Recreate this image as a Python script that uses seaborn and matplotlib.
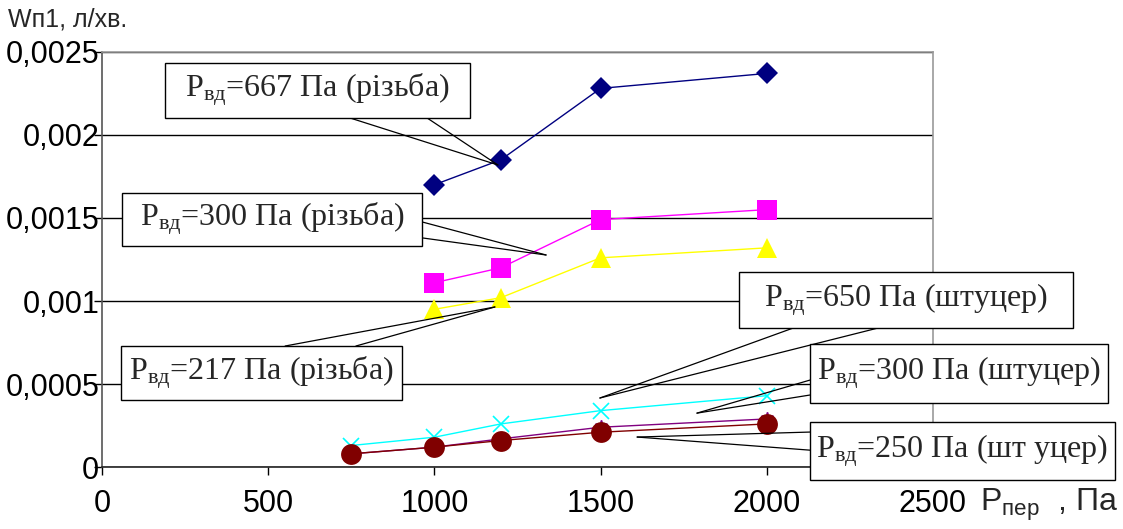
import seaborn as sns
import pandas as pd
import matplotlib.pyplot as plt
from matplotlib.patches import Rectangle
from matplotlib.ticker import FuncFormatter

x_thread = [1000, 1200, 1500, 2000]
w_667 = [0.00170, 0.00185, 0.00228, 0.00237]
w_300_thread = [0.00111, 0.00120, 0.00149, 0.00155]
w_217 = [0.00095, 0.00102, 0.00126, 0.00132]

x_fitting = [750, 1000, 1200, 1500, 2000]
w_650 = [0.00013, 0.00018, 0.00026, 0.00034, 0.00043]
w_300_fitting = [0.00008, 0.00012, 0.00017, 0.00024, 0.00029]
w_250 = [0.00008, 0.00012, 0.00016, 0.00021, 0.00026]

labels = ["=667 Па (різьба)", "=300 Па (різьба)", "=217 Па (різьба)",
          "=650 Па (штуцер)", "=300 Па (штуцер)", "=250 Па (шт уцер)"]

sns.set_theme(style="white")
plt.rcParams['font.family'] = ['Liberation Sans', 'DejaVu Sans']

fig = plt.figure(figsize=(11.23, 5.29), dpi=100)
ax = fig.add_axes([0.0908, 0.117, 0.7400, 0.785])

series = [
    (x_thread, w_667, "#000080", "D", 11),
    (x_thread, w_300_thread, "#FF00FF", "s", 14),
    (x_thread, w_217, "#FFFF00", "^", 14),
    (x_fitting, w_650, "#00FFFF", "x", 11),
    (x_fitting, w_300_fitting, "#800080", (6, 2, 0), 10),
    (x_fitting, w_250, "#800000", "o", 15),
]
for xs, ys, col, mk, ms in series:
    df = pd.DataFrame({"P": xs, "W": ys})
    sns.lineplot(data=df, x="P", y="W", color=col, marker=mk, markersize=ms,
                 markeredgecolor=col, markeredgewidth=1.2 if mk in ("x", (6, 2, 0)) else 0,
                 linewidth=1, ax=ax, legend=False, zorder=3)

ax.set_xlim(0, 2500)
ax.set_ylim(0, 0.0025)
ax.set_xticks([0, 500, 1000, 1500, 2000, 2500])
ax.set_yticks([0, 0.0005, 0.001, 0.0015, 0.002, 0.0025])
ax.yaxis.set_major_formatter(FuncFormatter(lambda v, p: f"{v:g}".replace(".", ",")))
ax.set_xlabel("")
ax.set_ylabel("")
ax.tick_params(axis="both", labelsize=22, colors="black")
ax.tick_params(axis="x", direction="out", length=6, width=1, pad=10, bottom=True)
ax.tick_params(axis="y", direction="out", length=6, width=1, pad=-4, left=True)
for t in ax.get_xticklabels() + ax.get_yticklabels():
    t.set_zorder(20)
ax.yaxis.grid(True, color="black", linewidth=1)
ax.xaxis.grid(False)
ax.set_axisbelow(True)
ax.spines["left"].set_color("#555555")
ax.spines["bottom"].set_color("#222222")
ax.spines["top"].set_color("#999999")
ax.spines["right"].set_color("#999999")
for s in ax.spines.values():
    s.set_linewidth(1.2)

# callout boxes: (x0, x1, y0, y1), leader bases, tip
callouts = [
    ((190, 1107, 0.002102, 0.002434), [(746, 0.002102), (978, 0.002102)], (1191, 0.001819)),
    ((60, 963, 0.001331, 0.001651), [(963, 0.001476), (963, 0.00138)], (1336, 0.001277)),
    ((57, 903, 0.000404, 0.000729), [(551, 0.000729), (764, 0.000729)], (1182, 0.000964)),
    ((1916, 2921, 0.000837, 0.001175), [(2079, 0.000837), (2334, 0.000837)], (1498, 0.000416)),
    ((2130, 3026, 0.000386, 0.000741), [(2130, 0.000524), (2130, 0.000434)], (1790, 0.000325)),
    ((2130, 3047, -0.0000783, 0.000271), [(2130, 0.000211), (2130, 0.000102)], (1610, 0.000181)),
]
for i, ((x0, x1, y0, y1), bases, tip) in enumerate(callouts):
    for b in bases:
        ax.annotate("", xy=tip, xytext=b,
                    arrowprops=dict(arrowstyle="-", color="black", lw=0.9,
                                    shrinkA=0, shrinkB=0),
                    annotation_clip=False, zorder=6)
    ax.add_patch(Rectangle((x0, y0), x1 - x0, y1 - y0, facecolor="white",
                           edgecolor="black", linewidth=1, clip_on=False, zorder=8))
    ax.text((x0 + x1) / 2, (y0 + y1) / 2, r"$\mathregular{P_{вд}}$" + labels[i],
            ha="center", va="center", fontsize=23, family=["Liberation Serif"],
            clip_on=False, zorder=9)

fig.text(0.007, 0.985, "Wп1, л/хв.", ha="left", va="top", fontsize=18)
fig.text(0.873, 0.035, r"$\mathregular{P_{пер}}$  , Па", ha="left", va="baseline",
         fontsize=23)

fig.savefig("out.png", dpi=100)
